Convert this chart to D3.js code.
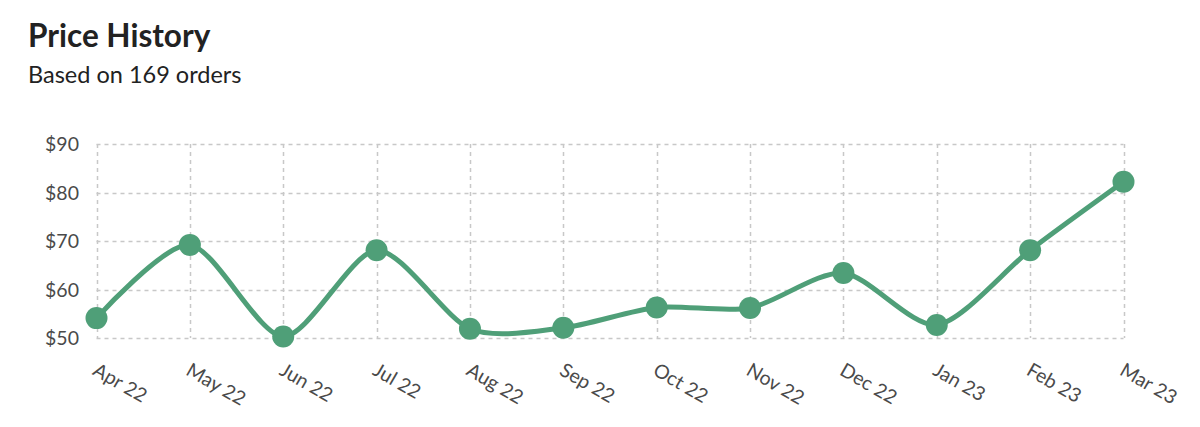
<!DOCTYPE html>
<html><head><meta charset="utf-8">
<script src="https://cdn.jsdelivr.net/npm/d3@7"></script>
<style>
body{margin:0;background:#fff;font-family:Lato,sans-serif;}
</style></head>
<body><svg id="c" width="1200" height="427"></svg>
<script>
const months = ["Apr 22","May 22","Jun 22","Jul 22","Aug 22","Sep 22","Oct 22","Nov 22","Dec 22","Jan 23","Feb 23","Mar 23"];
const prices = [54.1,69.2,50.3,68.1,51.9,52.1,56.3,56.2,63.4,52.7,68.1,82.2];
const yTicks = [50,60,70,80,90];

const svg = d3.select("#c");
const color = "#4f9f78";
svg.append("text").attr("x",28).attr("y",47).attr("font-size",31.5).attr("font-weight",700).attr("fill","#222").text("Price History");
svg.append("text").attr("x",28).attr("y",83).attr("font-size",23.5).attr("fill","#222").text("Based on 169 orders");

const x = d3.scalePoint().domain(months).range([96.5,1123.5]);
const y = d3.scaleLinear().domain([50,90]).range([338,144]);

const g = svg.append("g");
// grid
g.selectAll(".h").data(yTicks).join("line").attr("x1",96.5).attr("x2",1123.5)
 .attr("y1",d=>Math.round(y(d))+0.5).attr("y2",d=>Math.round(y(d))+0.5)
 .attr("stroke","#c8c8c8").attr("stroke-width",1.5).attr("stroke-dasharray","4,4");
g.selectAll(".v").data(months).join("line").attr("y1",144).attr("y2",338)
 .attr("x1",d=>Math.round(x(d))+0.5).attr("x2",d=>Math.round(x(d))+0.5)
 .attr("stroke","#c8c8c8").attr("stroke-width",1.5).attr("stroke-dasharray","4,4");

// y labels
g.selectAll(".yl").data(yTicks).join("text").attr("x",79).attr("y",d=>y(d)+7)
 .attr("text-anchor","end").attr("font-size",19.5).attr("fill","#4a4a4a").text(d=>"$"+d);
// x labels
g.selectAll(".xl").data(months).join("text")
 .attr("transform",d=>`translate(${x(d)-5},${374}) rotate(30)`)
 .attr("font-size",19.5).attr("fill","#4a4a4a").text(d=>d);

const line = d3.line().x((d,i)=>x(months[i])).y(d=>y(d)).curve(d3.curveCardinal.tension(0.2));
g.append("path").attr("d",line(prices)).attr("fill","none").attr("stroke",color).attr("stroke-width",5);
g.selectAll(".dot").data(prices).join("circle").attr("cx",(d,i)=>x(months[i])).attr("cy",d=>y(d))
 .attr("r",11).attr("fill",color);
</script></body></html>
